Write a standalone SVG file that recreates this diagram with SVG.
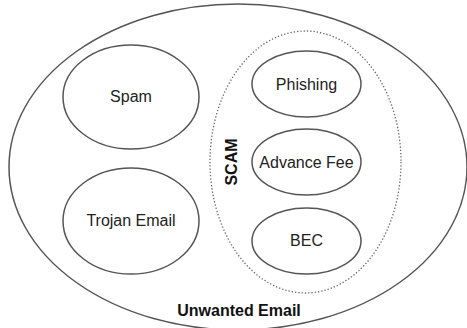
<svg xmlns="http://www.w3.org/2000/svg" width="467" height="328" viewBox="0 0 467 328">
<style>
.n{fill:#fff;stroke:#555;stroke-width:1.5}
.t{font-family:"Liberation Sans",Arial,sans-serif;font-size:16px;fill:#222;text-anchor:middle}
.b{font-weight:bold;fill:#111}
</style>
<rect width="467" height="328" fill="#fff"/>
<g id="unwanted"><ellipse class="n" cx="238" cy="167" rx="229" ry="163"/><text class="t b" x="239" y="316">Unwanted Email</text></g>
<g id="spam"><ellipse class="n" cx="131" cy="97" rx="68" ry="52"/><text class="t" x="131" y="102">Spam</text></g>
<g id="trojan"><ellipse class="n" cx="131" cy="221" rx="68" ry="53"/><text class="t" x="131" y="226">Trojan Email</text></g>
<g id="scam"><ellipse cx="305.5" cy="162" rx="95.5" ry="131" fill="none" stroke="#666" stroke-width="1.3" stroke-dasharray="1.3 2"/><text class="t b" transform="translate(237 162) rotate(-90)">SCAM</text></g>
<g id="phishing"><ellipse class="n" cx="306.5" cy="84" rx="54.5" ry="33"/><text class="t" x="306.5" y="89.5">Phishing</text></g>
<g id="advance"><ellipse class="n" cx="306.5" cy="162" rx="54.5" ry="33"/><text class="t" x="306.5" y="167.5">Advance Fee</text></g>
<g id="bec"><ellipse class="n" cx="306.5" cy="241" rx="54.5" ry="33"/><text class="t" x="306.5" y="246">BEC</text></g>
<g id="connectors"/>
</svg>
